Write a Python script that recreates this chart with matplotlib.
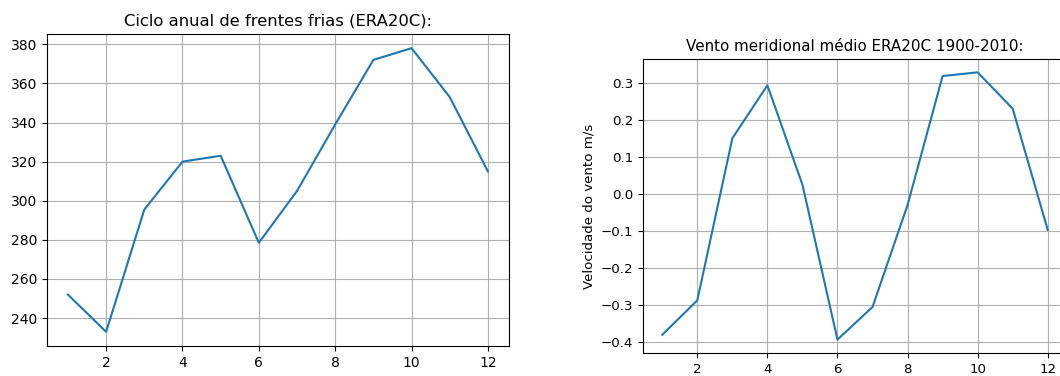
import matplotlib
matplotlib.use("Agg")
import matplotlib.pyplot as plt

meses = [1, 2, 3, 4, 5, 6, 7, 8, 9, 10, 11, 12]
frentes = [252, 233, 295.5, 320, 323, 278.5, 305, 339, 372, 378, 353, 315]
vento_v = [-0.38, -0.287, 0.15, 0.293, 0.025, -0.393, -0.305, -0.03, 0.318, 0.328, 0.23, -0.097]

fig = plt.figure(figsize=(10.6, 3.76), dpi=100)

ax1 = fig.add_axes([0.0443, 0.0798, 0.4358, 0.8298])
ax1.plot(meses, frentes)
ax1.set_title("Ciclo anual de frentes frias (ERA20C):", fontsize=11.8)
ax1.grid(True)
ax1.tick_params(labelsize=10)

ax2 = fig.add_axes([0.6066, 0.0612, 0.4, 0.782])
ax2.plot(meses, vento_v)
ax2.set_title("Vento meridional médio ERA20C 1900-2010:", fontsize=10.9)
ax2.set_ylabel("Velocidade do vento m/s", fontsize=9.6)
ax2.grid(True)
ax2.tick_params(labelsize=9.6)

fig.savefig("out.png", dpi=100)
